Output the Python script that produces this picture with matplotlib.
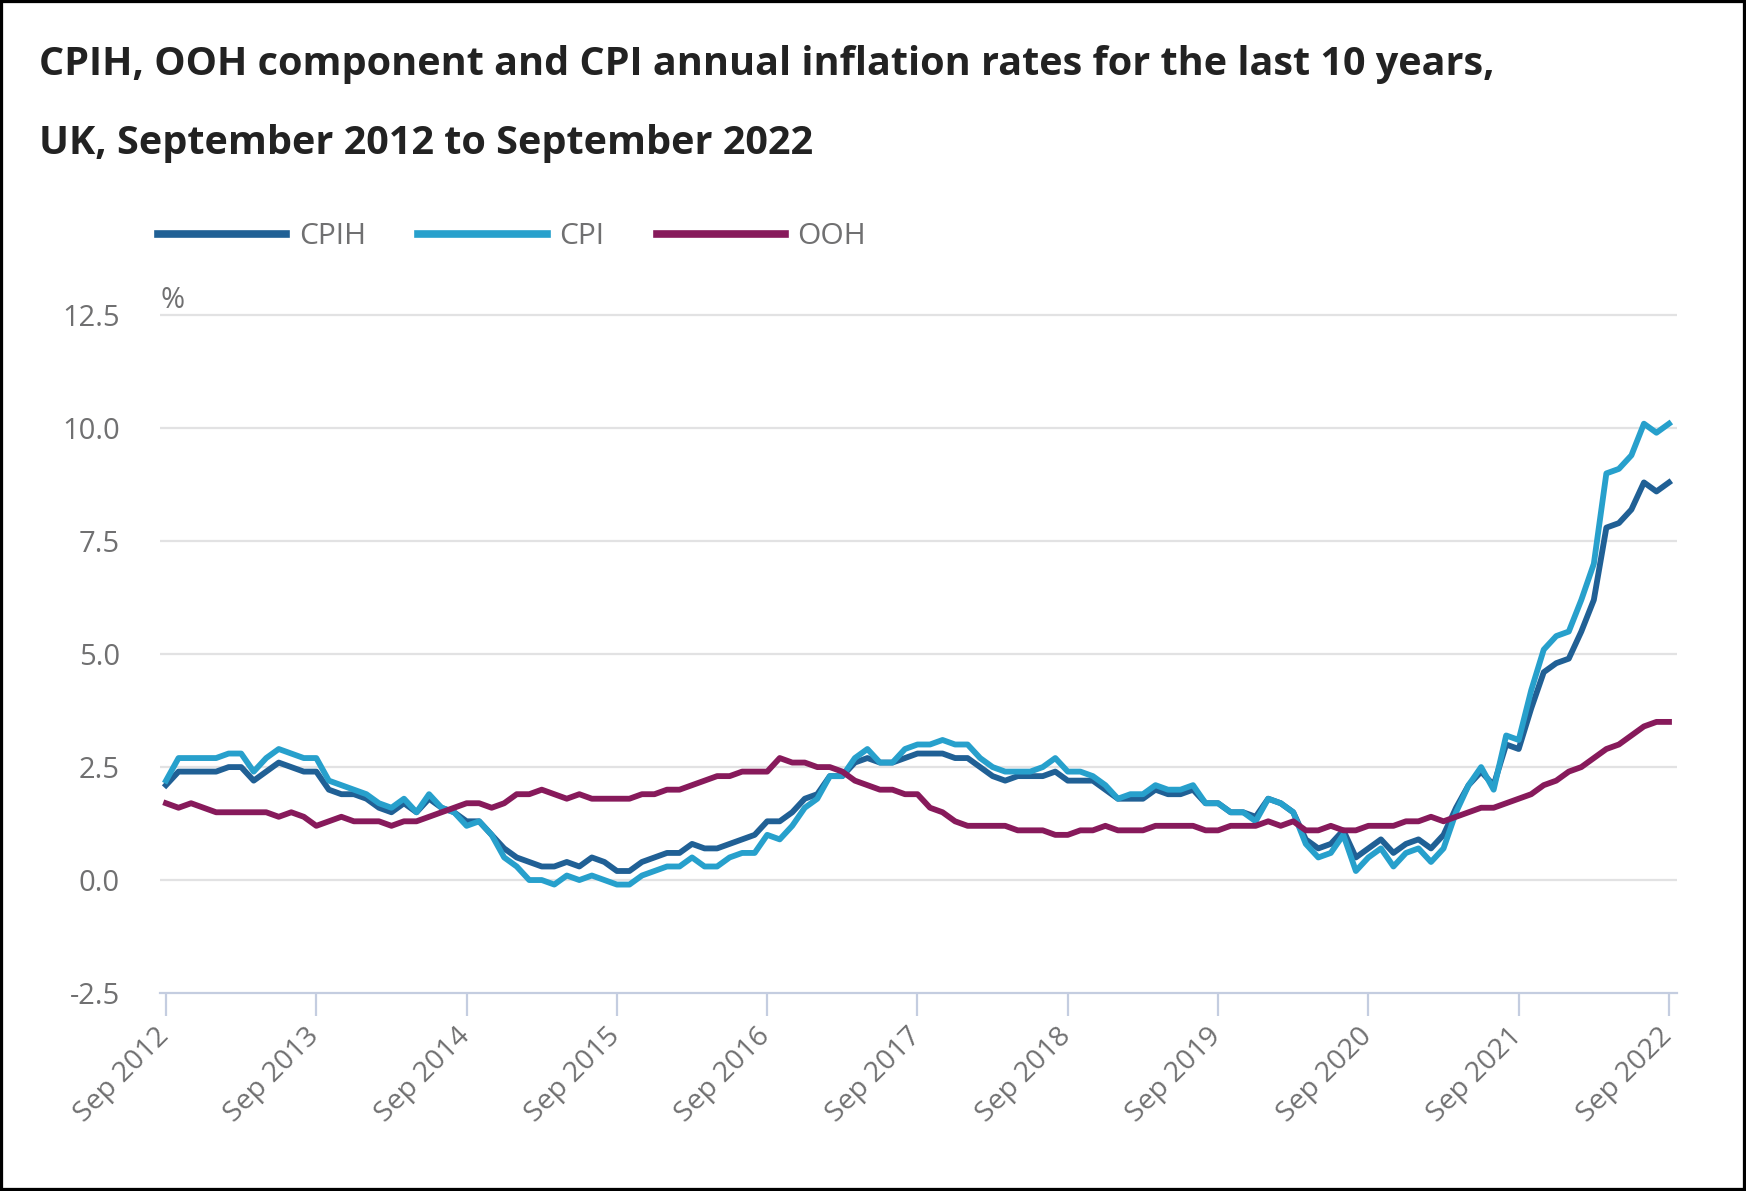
import matplotlib

matplotlib.use("Agg")
import matplotlib.pyplot as plt  # noqa: E402
import matplotlib.transforms as mtransforms  # noqa: E402
from matplotlib.patches import Rectangle  # noqa: E402

plt.rcParams["font.family"] = ["Open Sans", "DejaVu Sans"]

# ---------------------------------------------------------------------------
# Data: monthly annual rates (%), Sep 2012 .. Sep 2022
# ---------------------------------------------------------------------------

cpih = [
    2.1, 2.4, 2.4, 2.4,
    2.4, 2.5, 2.5, 2.2, 2.4, 2.6, 2.5, 2.4, 2.4, 2.0, 1.9, 1.9,
    1.8, 1.6, 1.5, 1.7, 1.5, 1.8, 1.6, 1.5, 1.3, 1.3, 1.0, 0.7,
    0.5, 0.4, 0.3, 0.3, 0.4, 0.3, 0.5, 0.4, 0.2, 0.2, 0.4, 0.5,
    0.6, 0.6, 0.8, 0.7, 0.7, 0.8, 0.9, 1.0, 1.3, 1.3, 1.5, 1.8,
    1.9, 2.3, 2.3, 2.6, 2.7, 2.6, 2.6, 2.7, 2.8, 2.8, 2.8, 2.7,
    2.7, 2.5, 2.3, 2.2, 2.3, 2.3, 2.3, 2.4, 2.2, 2.2, 2.2, 2.0,
    1.8, 1.8, 1.8, 2.0, 1.9, 1.9, 2.0, 1.7, 1.7, 1.5, 1.5, 1.4,
    1.8, 1.7, 1.5, 0.9, 0.7, 0.8, 1.1, 0.5, 0.7, 0.9, 0.6, 0.8,
    0.9, 0.7, 1.0, 1.6, 2.1, 2.4, 2.1, 3.0, 2.9, 3.8, 4.6, 4.8,
    4.9, 5.5, 6.2, 7.8, 7.9, 8.2, 8.8, 8.6, 8.8,
]

cpi = [
    2.2, 2.7, 2.7, 2.7,
    2.7, 2.8, 2.8, 2.4, 2.7, 2.9, 2.8, 2.7, 2.7, 2.2, 2.1, 2.0,
    1.9, 1.7, 1.6, 1.8, 1.5, 1.9, 1.6, 1.5, 1.2, 1.3, 1.0, 0.5,
    0.3, 0.0, 0.0, -0.1, 0.1, 0.0, 0.1, 0.0, -0.1, -0.1, 0.1, 0.2,
    0.3, 0.3, 0.5, 0.3, 0.3, 0.5, 0.6, 0.6, 1.0, 0.9, 1.2, 1.6,
    1.8, 2.3, 2.3, 2.7, 2.9, 2.6, 2.6, 2.9, 3.0, 3.0, 3.1, 3.0,
    3.0, 2.7, 2.5, 2.4, 2.4, 2.4, 2.5, 2.7, 2.4, 2.4, 2.3, 2.1,
    1.8, 1.9, 1.9, 2.1, 2.0, 2.0, 2.1, 1.7, 1.7, 1.5, 1.5, 1.3,
    1.8, 1.7, 1.5, 0.8, 0.5, 0.6, 1.0, 0.2, 0.5, 0.7, 0.3, 0.6,
    0.7, 0.4, 0.7, 1.5, 2.1, 2.5, 2.0, 3.2, 3.1, 4.2, 5.1, 5.4,
    5.5, 6.2, 7.0, 9.0, 9.1, 9.4, 10.1, 9.9, 10.1,
]

ooh = [
    1.7, 1.6, 1.7, 1.6,
    1.5, 1.5, 1.5, 1.5, 1.5, 1.4, 1.5, 1.4, 1.2, 1.3, 1.4, 1.3,
    1.3, 1.3, 1.2, 1.3, 1.3, 1.4, 1.5, 1.6, 1.7, 1.7, 1.6, 1.7,
    1.9, 1.9, 2.0, 1.9, 1.8, 1.9, 1.8, 1.8, 1.8, 1.8, 1.9, 1.9,
    2.0, 2.0, 2.1, 2.2, 2.3, 2.3, 2.4, 2.4, 2.4, 2.7, 2.6, 2.6,
    2.5, 2.5, 2.4, 2.2, 2.1, 2.0, 2.0, 1.9, 1.9, 1.6, 1.5, 1.3,
    1.2, 1.2, 1.2, 1.2, 1.1, 1.1, 1.1, 1.0, 1.0, 1.1, 1.1, 1.2,
    1.1, 1.1, 1.1, 1.2, 1.2, 1.2, 1.2, 1.1, 1.1, 1.2, 1.2, 1.2,
    1.3, 1.2, 1.3, 1.1, 1.1, 1.2, 1.1, 1.1, 1.2, 1.2, 1.2, 1.3,
    1.3, 1.4, 1.3, 1.4, 1.5, 1.6, 1.6, 1.7, 1.8, 1.9, 2.1, 2.2,
    2.4, 2.5, 2.7, 2.9, 3.0, 3.2, 3.4, 3.5, 3.5,
]

x_tick_labels = [f"Sep {year}" for year in range(2012, 2023)]
y_ticks = [-2.5, 0.0, 2.5, 5.0, 7.5, 10.0, 12.5]
y_tick_labels = ["-2.5", "0.0", "2.5", "5.0", "7.5", "10.0", "12.5"]

TITLE_1 = "CPIH, OOH component and CPI annual inflation rates for the last 10 years,"
TITLE_2 = "UK, September 2012 to September 2022"

# ---------------------------------------------------------------------------
# Style
# ---------------------------------------------------------------------------

W, H, DPI = 1746, 1191, 100
C_CPIH = "#206095"
C_CPI = "#27a0cc"
C_OOH = "#871a5b"
TEXT_GREY = "#707071"
GRID = "#e2e2e3"
AXIS = "#c4cde0"

fig = plt.figure(figsize=(W / DPI, H / DPI), dpi=DPI)
ax = fig.add_axes([160 / W, 1 - 993 / H, (1677 - 160) / W, (993 - 313) / H])

months = list(range(len(cpih)))
lw = 4.2
ax.plot(months, cpih, color=C_CPIH, lw=lw, label="CPIH", solid_joinstyle="round")
ax.plot(months, cpi, color=C_CPI, lw=lw, label="CPI", solid_joinstyle="round")
ax.plot(months, ooh, color=C_OOH, lw=lw, label="OOH", solid_joinstyle="round")

ax.set_xlim(-0.48, 120.64)
ax.set_ylim(-2.5, 12.55)

ax.set_yticks(y_ticks)
ax.set_yticklabels(y_tick_labels)
ax.tick_params(axis="y", length=0, pad=29, labelsize=21, labelcolor=TEXT_GREY)
for y in y_ticks[1:]:
    ax.axhline(y, color=GRID, lw=1.6, zorder=0)

ax.set_xticks(range(0, 121, 12))
ax.set_xticklabels(x_tick_labels, rotation=45, ha="right", va="top")
ax.tick_params(axis="x", length=16.5, width=1.6, color=AXIS, pad=5,
               labelsize=20.5, labelcolor=TEXT_GREY)
shift = mtransforms.ScaledTranslation(9 / DPI, 0, fig.dpi_scale_trans)
for lbl in ax.get_xticklabels():
    lbl.set_transform(lbl.get_transform() + shift)

for side in ("top", "right", "left"):
    ax.spines[side].set_visible(False)
ax.spines["bottom"].set_color(AXIS)
ax.spines["bottom"].set_linewidth(1.6)

ax.legend(loc="center left", bbox_to_anchor=(158 / W, 1 - 237 / H),
          bbox_transform=fig.transFigure, ncol=3, frameon=False,
          fontsize=21.5, labelcolor=TEXT_GREY, handlelength=4.3,
          handletextpad=0.42, columnspacing=1.75, borderpad=0, borderaxespad=0,
          handleheight=0.7)
for line in ax.get_legend().get_lines():
    line.set_linewidth(5.5)

fig.text(161 / W, 1 - 308 / H, "%", fontsize=21, color=TEXT_GREY, va="baseline")

fig.text(39 / W, 1 - 75 / H, TITLE_1, fontsize=28.5, fontweight="bold",
         color="#222222", va="baseline")
fig.text(39 / W, 1 - 154 / H, TITLE_2, fontsize=28.5, fontweight="bold",
         color="#222222", va="baseline")

fig.patches.append(Rectangle((0, 0), 1, 1, transform=fig.transFigure, fill=False,
                             edgecolor="black", lw=4.5, zorder=10))

fig.savefig("out.png", dpi=DPI, facecolor="white")
